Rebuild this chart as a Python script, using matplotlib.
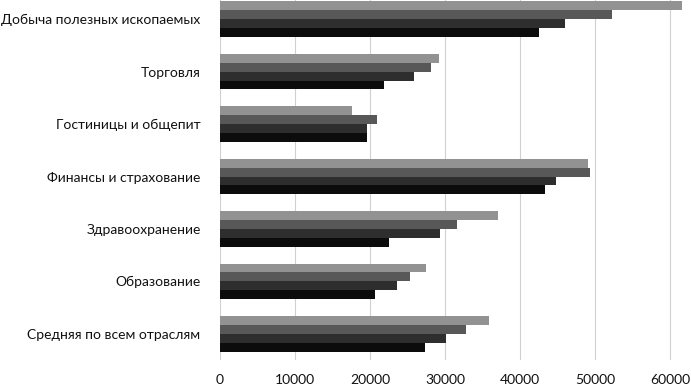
import matplotlib
matplotlib.use("Agg")
import matplotlib.pyplot as plt
import numpy as np

categories = ["Добыча полезных ископаемых", "Торговля", "Гостиницы и общепит",
              "Финансы и страхование", "Здравоохранение", "Образование",
              "Средняя по всем отраслям"]
series1 = [42550, 21900, 19540, 43350, 22480, 20700, 27290]
series2 = [45970, 25900, 19630, 44770, 29310, 23540, 30070]
series3 = [52250, 28160, 20920, 49340, 31540, 25320, 32780]
series4 = [61560, 29220, 17550, 48990, 37000, 27450, 35880]
xticks = [0, 10000, 20000, 30000, 40000, 50000, 60000]

colors = ["#0c0c0c", "#2e2e2e", "#585858", "#929292"]

plt.rcParams['font.family'] = ['Lato', 'DejaVu Sans']

fig = plt.figure(figsize=(6.91, 3.86), dpi=100)
ax = fig.add_axes([220/691, 26/386, 471/691, 367/386])

n = len(categories)
y = np.arange(n)[::-1].astype(float)
bh = 0.17
data = [series1, series2, series3, series4]
for i, (vals, c) in enumerate(zip(data, colors)):
    offs = (i - 1.5) * bh
    ax.barh(y + offs, vals, height=bh, color=c, zorder=3)

ax.set_yticks(y)
ax.set_yticklabels(categories, fontsize=10, color='#111111')
ax.set_xticks(xticks)
ax.set_xticklabels([str(t) for t in xticks], fontsize=10, color='#111111')
ax.set_xlim(0, 62760)
ax.set_ylim(-0.5, n - 0.5)
ax.grid(axis='x', color='#d0d0d0', linewidth=0.8, zorder=0)
for s in ax.spines.values():
    s.set_visible(False)
ax.tick_params(axis='y', length=0, pad=14)
ax.tick_params(axis='x', length=0, pad=10)

fig.savefig("out.png", dpi=100)
